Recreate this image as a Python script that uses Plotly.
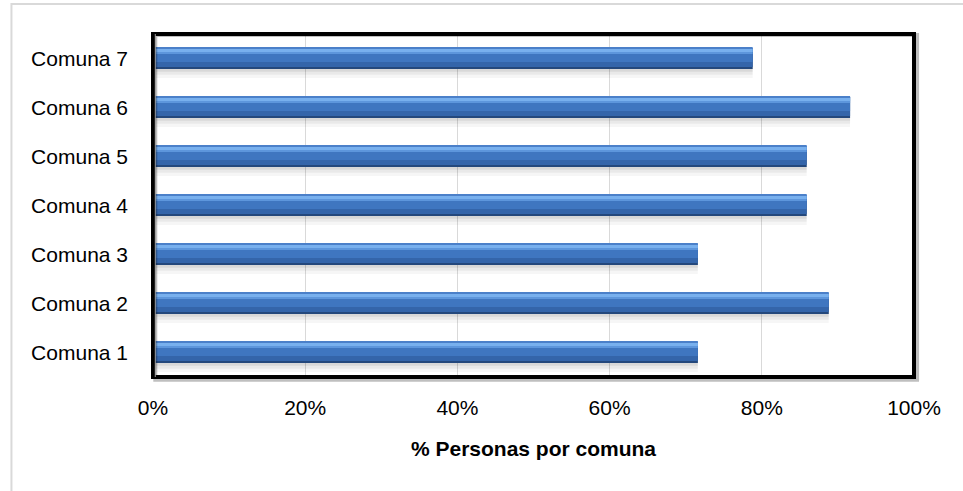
import plotly.graph_objects as go

categories = ["Comuna 1", "Comuna 2", "Comuna 3", "Comuna 4", "Comuna 5", "Comuna 6", "Comuna 7"]
values = [0.716, 0.888, 0.716, 0.859, 0.859, 0.916, 0.788]
x_ticks = [0, 0.2, 0.4, 0.6, 0.8, 1.0]
x_tick_labels = ["0%", "20%", "40%", "60%", "80%", "100%"]
x_title = "% Personas por comuna"

FONT = "Liberation Sans, Arial, sans-serif"

fig = go.Figure()

# layered bars to imitate the bevelled 3D look (offset, width in category units)
layers = [
    (-0.40, 0.43, "rgba(0,0,0,0.035)"),
    (-0.33, 0.43, "rgba(0,0,0,0.05)"),
    (-0.27, 0.43, "rgba(0,0,0,0.07)"),
    (-0.215, 0.43, "#24487c"),
    (-0.175, 0.39, "#3465aa"),
    (-0.072, 0.287, "#3f76c0"),
    (0.093, 0.122, "#5d96dc"),
    (0.133, 0.07, "#78b0ee"),
    (0.195, 0.02, "#4b80c9"),
]
for off, w, col in layers:
    fig.add_trace(go.Bar(
        y=categories, x=values, orientation="h",
        offset=off, width=w,
        marker=dict(color=col, line=dict(width=0)),
        hoverinfo="skip", showlegend=False,
    ))

fig.update_layout(
    width=963, height=491,
    barmode="overlay",
    paper_bgcolor="white", plot_bgcolor="white",
    margin=dict(l=153, r=49, t=34, b=114),
    font=dict(family=FONT, size=21, color="black"),
    xaxis=dict(
        range=[0, 1], tickvals=x_ticks, ticktext=x_tick_labels,
        showgrid=True, gridcolor="#d9d9d9", gridwidth=1,
        zeroline=False, showline=False, ticks="",
        ticklabelstandoff=16,
        tickfont=dict(family=FONT, size=21),
        title=dict(text="<b>" + x_title + "</b>", font=dict(family=FONT, size=21), standoff=23),
        fixedrange=True,
    ),
    yaxis=dict(
        type="category", categoryorder="array", categoryarray=categories,
        range=[-0.5, 6.5],
        showgrid=False, zeroline=False, showline=False, ticks="",
        ticklabelstandoff=24,
        tickfont=dict(family=FONT, size=21),
        fixedrange=True,
    ),
    shapes=[
        dict(type="rect", xref="paper", yref="paper",
             x0=-0.186, x1=1.2, y0=-0.5, y1=1.0875,
             line=dict(color="#d9d9d9", width=2), fillcolor="rgba(0,0,0,0)", layer="below"),
        dict(type="rect", xref="paper", yref="paper",
             x0=0.003, x1=1.004, y0=-0.008, y1=0.997,
             line=dict(color="rgba(0,0,0,0.25)", width=4), fillcolor="rgba(0,0,0,0)"),
        dict(type="rect", xref="paper", yref="paper",
             x0=0, x1=1, y0=0, y1=1,
             line=dict(color="black", width=4), fillcolor="rgba(0,0,0,0)"),
        dict(type="line", xref="paper", yref="paper",
             x0=0.003, x1=0.003, y0=0, y1=1,
             line=dict(color="#9a9a9a", width=1)),
    ],
)

fig.write_html("out.html", config={"displayModeBar": False},
               post_script="document.body.style.margin='0';document.body.style.overflow='hidden';")
